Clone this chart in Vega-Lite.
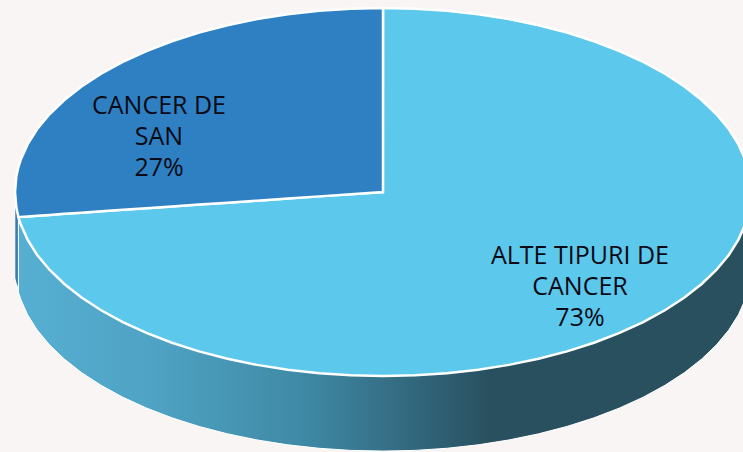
{"$schema":"https://vega.github.io/schema/vega-lite/v6.json","autosize":{"type":"fit","contains":"padding"},"width":743,"height":452,"padding":0,"background":"#F9F5F4","view":{"stroke":null},
"datasets":{
"side":[{"u":-0.9908,"top":-0.068,"bottom":-0.272},{"u":-0.9848,"top":-0.0868,"bottom":-0.2908},{"u":-0.9659,"top":-0.1294,"bottom":-0.3334},{"u":-0.9397,"top":-0.171,"bottom":-0.375},{"u":-0.9063,"top":-0.2113,"bottom":-0.4153},{"u":-0.866,"top":-0.25,"bottom":-0.454},{"u":-0.8192,"top":-0.2868,"bottom":-0.4908},{"u":-0.766,"top":-0.3214,"bottom":-0.5254},{"u":-0.7071,"top":-0.3536,"bottom":-0.5576},{"u":-0.6428,"top":-0.383,"bottom":-0.587},{"u":-0.5736,"top":-0.4096,"bottom":-0.6136},{"u":-0.5,"top":-0.433,"bottom":-0.637},{"u":-0.4226,"top":-0.4532,"bottom":-0.6572},{"u":-0.342,"top":-0.4698,"bottom":-0.6738},{"u":-0.2588,"top":-0.483,"bottom":-0.687},{"u":-0.1736,"top":-0.4924,"bottom":-0.6964},{"u":-0.0872,"top":-0.4981,"bottom":-0.7021},{"u":0,"top":-0.5,"bottom":-0.704},{"u":0.0872,"top":-0.4981,"bottom":-0.7021},{"u":0.1736,"top":-0.4924,"bottom":-0.6964},{"u":0.2588,"top":-0.483,"bottom":-0.687},{"u":0.342,"top":-0.4698,"bottom":-0.6738},{"u":0.4226,"top":-0.4532,"bottom":-0.6572},{"u":0.5,"top":-0.433,"bottom":-0.637},{"u":0.5736,"top":-0.4096,"bottom":-0.6136},{"u":0.6428,"top":-0.383,"bottom":-0.587},{"u":0.7071,"top":-0.3536,"bottom":-0.5576},{"u":0.766,"top":-0.3214,"bottom":-0.5254},{"u":0.8192,"top":-0.2868,"bottom":-0.4908},{"u":0.866,"top":-0.25,"bottom":-0.454},{"u":0.9063,"top":-0.2113,"bottom":-0.4153},{"u":0.9397,"top":-0.171,"bottom":-0.375},{"u":0.9659,"top":-0.1294,"bottom":-0.3334},{"u":0.9848,"top":-0.0868,"bottom":-0.2908},{"u":0.9962,"top":-0.0436,"bottom":-0.2476},{"u":1,"top":0,"bottom":-0.204}],
"strip":[{"u":-0.9992,"top":-0.0408,"bottom":-0.2337},{"u":-0.9959,"top":-0.05,"bottom":-0.247},{"u":-0.9918,"top":-0.065,"bottom":-0.258}],
"wedges":[
{"wedge":"ALTE TIPURI DE CANCER","u":-0.9908,"upper":-0.068,"lower":-0.068},{"wedge":"ALTE TIPURI DE CANCER","u":-0.9848,"upper":-0.0676,"lower":-0.0868},{"wedge":"ALTE TIPURI DE CANCER","u":-0.9659,"upper":-0.0663,"lower":-0.1294},{"wedge":"ALTE TIPURI DE CANCER","u":-0.9397,"upper":-0.0645,"lower":-0.171},{"wedge":"ALTE TIPURI DE CANCER","u":-0.9063,"upper":-0.0622,"lower":-0.2113},{"wedge":"ALTE TIPURI DE CANCER","u":-0.866,"upper":-0.0594,"lower":-0.25},{"wedge":"ALTE TIPURI DE CANCER","u":-0.8192,"upper":-0.0562,"lower":-0.2868},{"wedge":"ALTE TIPURI DE CANCER","u":-0.766,"upper":-0.0525,"lower":-0.3214},{"wedge":"ALTE TIPURI DE CANCER","u":-0.7071,"upper":-0.0485,"lower":-0.3536},{"wedge":"ALTE TIPURI DE CANCER","u":-0.6428,"upper":-0.0441,"lower":-0.383},{"wedge":"ALTE TIPURI DE CANCER","u":-0.5736,"upper":-0.0393,"lower":-0.4096},{"wedge":"ALTE TIPURI DE CANCER","u":-0.5,"upper":-0.0343,"lower":-0.433},{"wedge":"ALTE TIPURI DE CANCER","u":-0.4226,"upper":-0.029,"lower":-0.4532},{"wedge":"ALTE TIPURI DE CANCER","u":-0.342,"upper":-0.0235,"lower":-0.4698},{"wedge":"ALTE TIPURI DE CANCER","u":-0.2588,"upper":-0.0178,"lower":-0.483},{"wedge":"ALTE TIPURI DE CANCER","u":-0.1736,"upper":-0.0119,"lower":-0.4924},{"wedge":"ALTE TIPURI DE CANCER","u":-0.0872,"upper":-0.006,"lower":-0.4981},{"wedge":"ALTE TIPURI DE CANCER","u":-0.0005,"upper":0,"lower":-0.5},{"wedge":"ALTE TIPURI DE CANCER","u":0,"upper":0.5,"lower":-0.5},{"wedge":"ALTE TIPURI DE CANCER","u":0.0872,"upper":0.4981,"lower":-0.4981},{"wedge":"ALTE TIPURI DE CANCER","u":0.1736,"upper":0.4924,"lower":-0.4924},{"wedge":"ALTE TIPURI DE CANCER","u":0.2588,"upper":0.483,"lower":-0.483},{"wedge":"ALTE TIPURI DE CANCER","u":0.342,"upper":0.4698,"lower":-0.4698},{"wedge":"ALTE TIPURI DE CANCER","u":0.4226,"upper":0.4532,"lower":-0.4532},{"wedge":"ALTE TIPURI DE CANCER","u":0.5,"upper":0.433,"lower":-0.433},{"wedge":"ALTE TIPURI DE CANCER","u":0.5736,"upper":0.4096,"lower":-0.4096},{"wedge":"ALTE TIPURI DE CANCER","u":0.6428,"upper":0.383,"lower":-0.383},{"wedge":"ALTE TIPURI DE CANCER","u":0.7071,"upper":0.3536,"lower":-0.3536},{"wedge":"ALTE TIPURI DE CANCER","u":0.766,"upper":0.3214,"lower":-0.3214},{"wedge":"ALTE TIPURI DE CANCER","u":0.8192,"upper":0.2868,"lower":-0.2868},{"wedge":"ALTE TIPURI DE CANCER","u":0.866,"upper":0.25,"lower":-0.25},{"wedge":"ALTE TIPURI DE CANCER","u":0.9063,"upper":0.2113,"lower":-0.2113},{"wedge":"ALTE TIPURI DE CANCER","u":0.9397,"upper":0.171,"lower":-0.171},{"wedge":"ALTE TIPURI DE CANCER","u":0.9659,"upper":0.1294,"lower":-0.1294},{"wedge":"ALTE TIPURI DE CANCER","u":0.9848,"upper":0.0868,"lower":-0.0868},{"wedge":"ALTE TIPURI DE CANCER","u":0.9962,"upper":0.0436,"lower":-0.0436},{"wedge":"ALTE TIPURI DE CANCER","u":1,"upper":0,"lower":0},
{"wedge":"CANCER DE SAN","u":-1,"upper":0,"lower":0},{"wedge":"CANCER DE SAN","u":-0.9962,"upper":0.0436,"lower":-0.0436},{"wedge":"CANCER DE SAN","u":-0.9908,"upper":0.0677,"lower":-0.068},{"wedge":"CANCER DE SAN","u":-0.9848,"upper":0.0868,"lower":-0.0676},{"wedge":"CANCER DE SAN","u":-0.9659,"upper":0.1294,"lower":-0.0663},{"wedge":"CANCER DE SAN","u":-0.9397,"upper":0.171,"lower":-0.0645},{"wedge":"CANCER DE SAN","u":-0.9063,"upper":0.2113,"lower":-0.0622},{"wedge":"CANCER DE SAN","u":-0.866,"upper":0.25,"lower":-0.0594},{"wedge":"CANCER DE SAN","u":-0.8192,"upper":0.2868,"lower":-0.0562},{"wedge":"CANCER DE SAN","u":-0.766,"upper":0.3214,"lower":-0.0525},{"wedge":"CANCER DE SAN","u":-0.7071,"upper":0.3536,"lower":-0.0485},{"wedge":"CANCER DE SAN","u":-0.6428,"upper":0.383,"lower":-0.0441},{"wedge":"CANCER DE SAN","u":-0.5736,"upper":0.4096,"lower":-0.0393},{"wedge":"CANCER DE SAN","u":-0.5,"upper":0.433,"lower":-0.0343},{"wedge":"CANCER DE SAN","u":-0.4226,"upper":0.4532,"lower":-0.029},{"wedge":"CANCER DE SAN","u":-0.342,"upper":0.4698,"lower":-0.0235},{"wedge":"CANCER DE SAN","u":-0.2588,"upper":0.483,"lower":-0.0178},{"wedge":"CANCER DE SAN","u":-0.1736,"upper":0.4924,"lower":-0.0119},{"wedge":"CANCER DE SAN","u":-0.0872,"upper":0.4981,"lower":-0.006},{"wedge":"CANCER DE SAN","u":0,"upper":0.5,"lower":0}],
"labels":[{"wedge":"CANCER DE SAN","share":27,"label":"CANCER DE\nSAN\n27%","u":-0.6087,"v":0.2337},{"wedge":"ALTE TIPURI DE CANCER","share":73,"label":"ALTE TIPURI DE\nCANCER\n73%","u":0.5353,"v":-0.1739}]},
"layer":[
{"data":{"name":"strip"},"mark":{"type":"area","clip":true,"fill":"#3A7AB0"},"encoding":{"x":{"field":"u","type":"quantitative","scale":{"domain":[-1.0408,0.9783],"nice":false,"zero":false},"axis":null},"y":{"field":"top","type":"quantitative","stack":null,"scale":{"domain":[-0.7065,0.5217],"nice":false,"zero":false},"axis":null},"y2":{"field":"bottom"}}},
{"data":{"name":"side"},"mark":{"type":"area","clip":true,"stroke":"#FFFFFF","strokeWidth":1,"fill":{"gradient":"linear","x1":0,"y1":0,"x2":1,"y2":0,"stops":[{"offset":0,"color":"#56AFD2"},{"offset":0.18,"color":"#4FA3C4"},{"offset":0.385,"color":"#3F8AA6"},{"offset":0.52,"color":"#346C82"},{"offset":0.645,"color":"#28505F"},{"offset":1,"color":"#28505F"}]}},"encoding":{"x":{"field":"u","type":"quantitative"},"y":{"field":"top","type":"quantitative","stack":null},"y2":{"field":"bottom"}}},
{"data":{"name":"wedges"},"mark":{"type":"area","clip":true,"stroke":"#FFFFFF","strokeWidth":2.5},"encoding":{"x":{"field":"u","type":"quantitative"},"y":{"field":"upper","type":"quantitative","stack":null},"y2":{"field":"lower"},"color":{"field":"wedge","type":"nominal","legend":null,"sort":["ALTE TIPURI DE CANCER","CANCER DE SAN"],"scale":{"domain":["ALTE TIPURI DE CANCER","CANCER DE SAN"],"range":["#5BC8EC","#2E80C2"]}}}},
{"data":{"name":"labels"},"mark":{"type":"text","clip":true,"font":"Open Sans","fontSize":25,"lineHeight":31,"lineBreak":"\n","align":"center","baseline":"middle","fill":"#0A0A14"},"encoding":{"x":{"field":"u","type":"quantitative"},"y":{"field":"v","type":"quantitative"},"text":{"field":"label","type":"nominal"}}}
]}
